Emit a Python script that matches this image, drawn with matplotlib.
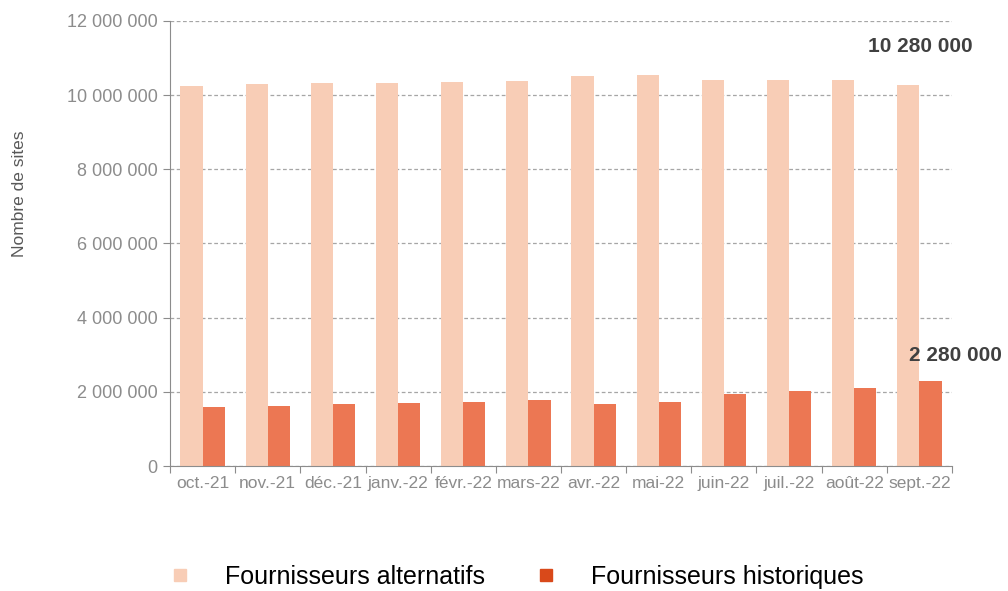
import matplotlib.pyplot as plt
import numpy as np
from matplotlib.lines import Line2D

# data
mois = ["oct.-21", "nov.-21", "déc.-21", "janv.-22", "févr.-22", "mars-22",
        "avr.-22", "mai-22", "juin-22", "juil.-22", "août-22", "sept.-22"]
alternatifs = [10250000, 10300000, 10330000, 10330000, 10360000, 10380000,
               10520000, 10550000, 10420000, 10420000, 10420000, 10280000]
historiques = [1590000, 1620000, 1670000, 1690000, 1730000, 1790000,
               1670000, 1730000, 1930000, 2020000, 2110000, 2280000]
yticks = [0, 2000000, 4000000, 6000000, 8000000, 10000000, 12000000]

col_alt = "#F8CDB6"
col_hist = "#EC7753"
col_hist_leg = "#D9491A"
grey = "#8C8C8C"

plt.rcParams['font.family'] = ['Liberation Sans', 'DejaVu Sans']


def fmt(v):
    return f"{v:,}".replace(",", " ")


fig = plt.figure(figsize=(10.08, 5.91), dpi=100)
ax = fig.add_axes([0.1687, 0.2115, 0.9444 - 0.1687, 0.9645 - 0.2115])

x = np.arange(len(mois))
w = 0.34
ax.bar(x - w / 2, alternatifs, w, color=col_alt, zorder=2)
ax.bar(x + w / 2, historiques, w, color=col_hist, zorder=2)

ax.set_xlim(-0.5, len(mois) - 0.5)
ax.set_ylim(0, 12000000)
ax.set_yticks(yticks)
ax.set_yticklabels([fmt(v) for v in yticks], color=grey, fontsize=13)
ax.yaxis.grid(True, linestyle=(0, (3, 2)), color="#A6A6A6", linewidth=0.9, zorder=0)

# ticks between categories, labels centered
ax.set_xticks(np.arange(len(mois) + 1) - 0.5)
ax.set_xticklabels([])
ax.set_xticks(x, minor=True)
ax.set_xticklabels(mois, minor=True, color=grey, fontsize=12.5)
ax.tick_params(axis="x", which="minor", length=0, pad=7)
ax.tick_params(axis="x", which="major", length=5, color=grey)
ax.tick_params(axis="y", length=5, color=grey, pad=4)

for s in ["top", "right"]:
    ax.spines[s].set_visible(False)
for s in ["left", "bottom"]:
    ax.spines[s].set_color(grey)

ax.set_ylabel("Nombre de sites", color="#595959", fontsize=12.5)
ax.yaxis.set_label_coords(-0.183, 0.611)

ax.annotate(fmt(10280000), xy=(11 - w / 2, alternatifs[-1]), xytext=(11.02, 11300000),
            ha="center", va="center", fontsize=15, fontweight="bold", color="#404040",
            annotation_clip=False)
ax.annotate(fmt(2280000), xy=(11 + w / 2, historiques[-1]), xytext=(11.55, 2970000),
            ha="center", va="center", fontsize=15, fontweight="bold", color="#404040",
            annotation_clip=False)

handles = [Line2D([], [], marker="s", linestyle="none", markersize=9, color=col_alt),
           Line2D([], [], marker="s", linestyle="none", markersize=9, color=col_hist_leg)]
fig.legend(handles, ["Fournisseurs alternatifs", "Fournisseurs historiques"],
           loc="center left", bbox_to_anchor=(0.1538, 0.024), ncol=2, frameon=False,
           fontsize=18, handletextpad=0.8, columnspacing=1.44, borderpad=0,
           borderaxespad=0, labelcolor="#000000")

fig.savefig("out.png", dpi=100)
